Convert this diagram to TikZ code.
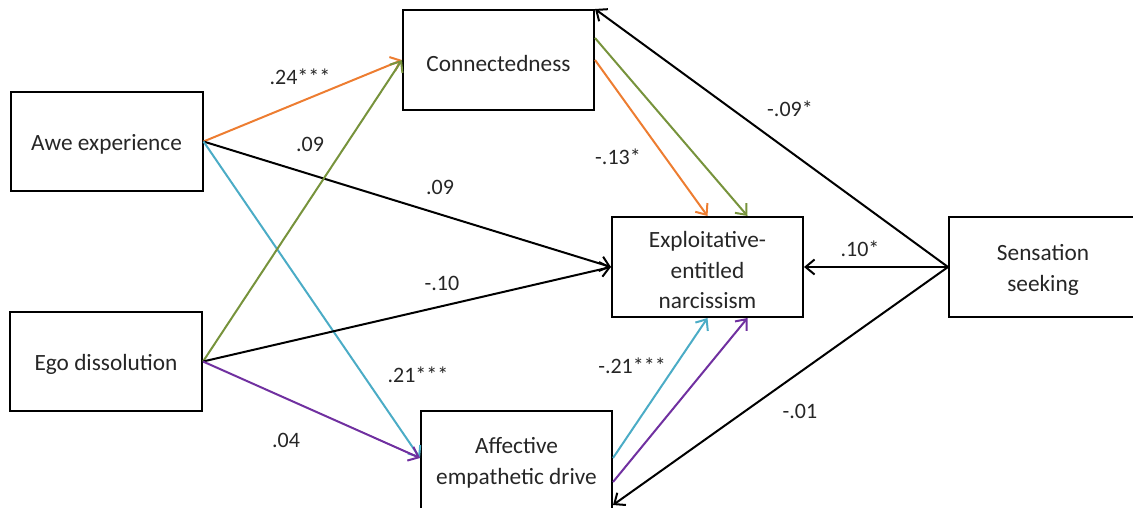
\documentclass[tikz,border=0pt]{standalone}
\usepackage{fontspec}
\setmainfont{Carlito}
\usetikzlibrary{arrows.meta,calc}
\definecolor{corange}{HTML}{ED7D31}
\definecolor{cgreen}{HTML}{77933C}
\definecolor{cblue}{HTML}{4BACC6}
\definecolor{cpurple}{HTML}{7030A0}
\definecolor{ctext}{HTML}{262626}
\begin{document}
\begin{tikzpicture}[x=1pt,y=-1pt,
 box/.style={draw,line width=2pt,inner sep=0pt},
 boxtext/.style={inner sep=0pt,align=center,text=ctext,yshift=-3pt,font=\fontsize{23.3}{30.5}\selectfont},
 lab/.style={font=\fontsize{22}{26}\selectfont,inner sep=0pt,text=ctext},
 arr/.style={line width=2pt,-{Straight Barb[length=9pt,width=15pt]}},
]
\useasboundingbox (0,0) rectangle (1133,508);
\node[box,minimum width=192pt,minimum height=99pt,label={[boxtext]center:Awe experience}] (awe) at (106.5,141.5) {};
\node[box,minimum width=192pt,minimum height=99pt,label={[boxtext]center:Ego dissolution}] (ego) at (106,361.5) {};
\node[box,minimum width=191pt,minimum height=100pt,label={[boxtext]center:Connectedness}] (conn) at (498.5,60) {};
\node[box,minimum width=191pt,minimum height=100pt,label={[boxtext]center:Exploitative-\\entitled\\narcissism}] (expl) at (707.5,267) {};
\node[box,minimum width=188pt,minimum height=100pt,label={[boxtext]center:Sensation\\seeking}] (sens) at (1043,267) {};
\node[box,minimum width=191pt,minimum height=98pt,label={[boxtext]center:Affective\\empathetic drive}] (aff) at (516.5,460) {};

% from Awe
\draw[arr,corange] (awe.east) -- (conn.west);
\draw[arr,black] (awe.east) -- (expl.west);
\draw[arr,cblue] (awe.east) -- ($(aff.west)+(0,-2)$);
% from Ego
\draw[arr,cgreen] (ego.east) -- (conn.west);
\draw[arr,black] (ego.east) -- (expl.west);
\draw[arr,cpurple] (ego.east) -- ($(aff.west)+(0,-2)$);
% Connectedness to Exploitative
\draw[arr,corange] (conn.east) -- (expl.north);
\draw[arr,cgreen] ($(conn.east)+(0,-22)$) -- ($(expl.north)+(40,0)$);
% Affective to Exploitative
\draw[arr,cblue] ($(aff.east)+(0,-2)$) -- (expl.south);
\draw[arr,cpurple] ($(aff.east)+(0,22)$) -- ($(expl.south)+(40,0)$);
% Sensation seeking
\draw[arr,black] (sens.west) -- (conn.north east);
\draw[arr,black] (sens.west) -- (expl.east);
\draw[arr,black] (sens.west) -- ($(aff.east)+(0,45)$);

% labels
\node[lab] (l1) at (300,77) {.24***};
\node[lab] (l2) at (310,144) {.09};
\node[lab] (l3) at (440,187) {.09};
\node[lab] (l4) at (442,283) {-.10};
\node[lab] (l5) at (418,375) {.21***};
\node[lab] (l6) at (286,440) {.04};
\node[lab] (l7) at (618,157) {-.13*};
\node[lab] (l8) at (790,109) {-.09*};
\node[lab] (l9) at (860,249) {.10*};
\node[lab] (l10) at (632,366) {-.21***};
\node[lab] (l11) at (800,411) {-.01};
\end{tikzpicture}
\end{document}
